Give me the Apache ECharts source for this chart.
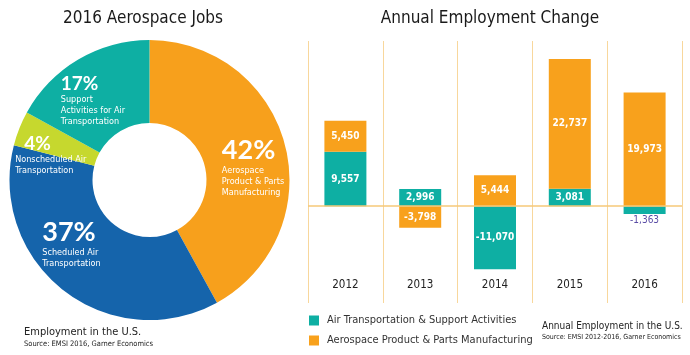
<!DOCTYPE html>
<html><head><meta charset="utf-8">
<script src="https://cdn.jsdelivr.net/npm/echarts@6/dist/echarts.min.js"></script>
<style>html,body{margin:0;padding:0;background:#fff}#c{width:690px;height:355px}</style>
</head><body><div id="c"></div>
<script>
// ---- data ----
const pieNames = ['Aerospace Product & Parts Manufacturing','Scheduled Air Transportation','Nonscheduled Air Transportation','Support Activities for Air Transportation'];
const pieLabels = ['Aerospace\nProduct & Parts\nManufacturing','Scheduled Air\nTransportation','Nonscheduled Air\nTransportation','Support\nActivities for Air\nTransportation'];
const pieValues = [42, 37, 4, 17];
const years = ['2012','2013','2014','2015','2016'];
const airSeriesName = 'Air Transportation & Support Activities';
const aeroSeriesName = 'Aerospace Product & Parts Manufacturing';
const airValues = [9557, 2996, -11070, 3081, -1363];
const aeroValues = [5450, -3798, 5444, 22737, 19973];

// ---- styles ----
const COND = "'Liberation Sans Narrow','DejaVu Sans Condensed','Roboto Condensed',Roboto,sans-serif";
const BOLD = "Lato,'Open Sans',sans-serif";
const pieColors = ['#F7A01C','#1564AB','#C6D82E','#0EAFA3'];
const TEAL = '#0EAFA3', ORANGE = '#F8A11C', GRIDC = '#F8D79C';
const pieLabelCfg = [
  {big: 27, w: 56, pad: [24, 0, 0, 4], pl: 0},
  {big: 27, w: 56, pad: [0, 34, 34, 0], pl: 0},
  {big: 19, w: 64, pad: [24, 16, 0, 0], pl: 9},
  {big: 19, w: 60, pad: [16, 14, 0, 0], pl: 0}
];
const fmt = v => Math.round(v).toLocaleString('en-US');

const pieData = pieValues.map((v, i) => {
  const c = pieLabelCfg[i];
  return {
    name: pieNames[i], value: v,
    label: {
      formatter: '{p|' + v + '%}\n' + pieLabels[i].split('\n').map(s => '{t|' + s + '}').join('\n'),
      padding: c.pad,
      rich: {
        p: {fontSize: c.big, fontWeight: 'bold', fontFamily: BOLD, color: '#fff', width: c.w - c.pl, padding: [0, 0, 0, c.pl], align: 'left', lineHeight: c.big + 2},
        t: {fontSize: 9, fontFamily: COND, color: '#fff', width: c.w, align: 'left', lineHeight: 11}
      }
    }
  };
});

const chart = echarts.init(document.getElementById('c'), null, {renderer: 'canvas'});
chart.setOption({
  animation: false,
  color: [TEAL, ORANGE],
  title: [
    {text: '2016 Aerospace Jobs', left: 138, top: 5, textAlign: 'center',
     textStyle: {fontFamily: COND, fontSize: 17, fontWeight: 'normal', color: '#1a1a1a'}},
    {text: 'Annual Employment Change', left: 485, top: 5, textAlign: 'center',
     textStyle: {fontFamily: COND, fontSize: 17, fontWeight: 'normal', color: '#1a1a1a'}},
    {text: 'Employment in the U.S.', subtext: 'Source: EMSI 2016, Garner Economics', left: 19, top: 322, itemGap: 2,
     textStyle: {fontFamily: COND, fontSize: 11, fontWeight: 'normal', color: '#222'},
     subtextStyle: {fontFamily: COND, fontSize: 7.5, color: '#222'}},
    {text: 'Annual Employment in the U.S.', subtext: 'Source: EMSI 2012-2016, Garner Economics', left: 537, top: 316, itemGap: 3,
     textStyle: {fontFamily: COND, fontSize: 10, fontWeight: 'normal', color: '#222'},
     subtextStyle: {fontFamily: COND, fontSize: 7, color: '#222'}}
  ],
  legend: {
    orient: 'vertical', left: 309, top: 315, padding: 0, itemWidth: 10, itemHeight: 10, itemGap: 9,
    icon: 'rect', data: [airSeriesName, aeroSeriesName],
    textStyle: {fontFamily: COND, fontSize: 11, color: '#333', padding: [0, 0, 0, 3]}
  },
  grid: {left: 308, right: 8, top: 41, bottom: 52, containLabel: false},
  xAxis: {
    type: 'category', data: years,
    axisLine: {show: false}, axisTick: {show: false},
    axisLabel: {inside: true, margin: 12, fontFamily: COND, fontSize: 11.5, color: '#222'},
    splitLine: {show: true, lineStyle: {color: GRIDC, width: 1}}
  },
  yAxis: {type: 'value', min: -17000, max: 29000, show: false, splitLine: {show: false}},
  series: [
    {
      type: 'pie', center: [149.5, 180], radius: [57, 140], startAngle: 90, clockwise: true,
      color: pieColors, silent: true,
      label: {show: true, position: 'inside'}, labelLine: {show: false},
      data: pieData
    },
    {
      name: airSeriesName, type: 'bar', stack: 'emp', barWidth: 42,
      itemStyle: {color: TEAL},
      label: {show: true, position: 'inside', color: '#fff', fontFamily: COND, fontSize: 10, fontWeight: 'bold', formatter: p => fmt(p.value)},
      data: airValues.map((v, i) => i === 4 ? {value: v, label: {position: 'bottom', distance: 1, color: '#5A4CA5', fontWeight: 'normal'}} : v),
      markLine: {silent: true, symbol: 'none', label: {show: false}, lineStyle: {color: '#F6C878', width: 1.5, type: 'solid'}, data: [{yAxis: 0}]}
    },
    {
      name: aeroSeriesName, type: 'bar', stack: 'emp', barWidth: 42,
      itemStyle: {color: ORANGE},
      label: {show: true, position: 'inside', color: '#fff', fontFamily: COND, fontSize: 10, fontWeight: 'bold', formatter: p => fmt(p.value)},
      data: aeroValues
    }
  ]
});
</script></body></html>
